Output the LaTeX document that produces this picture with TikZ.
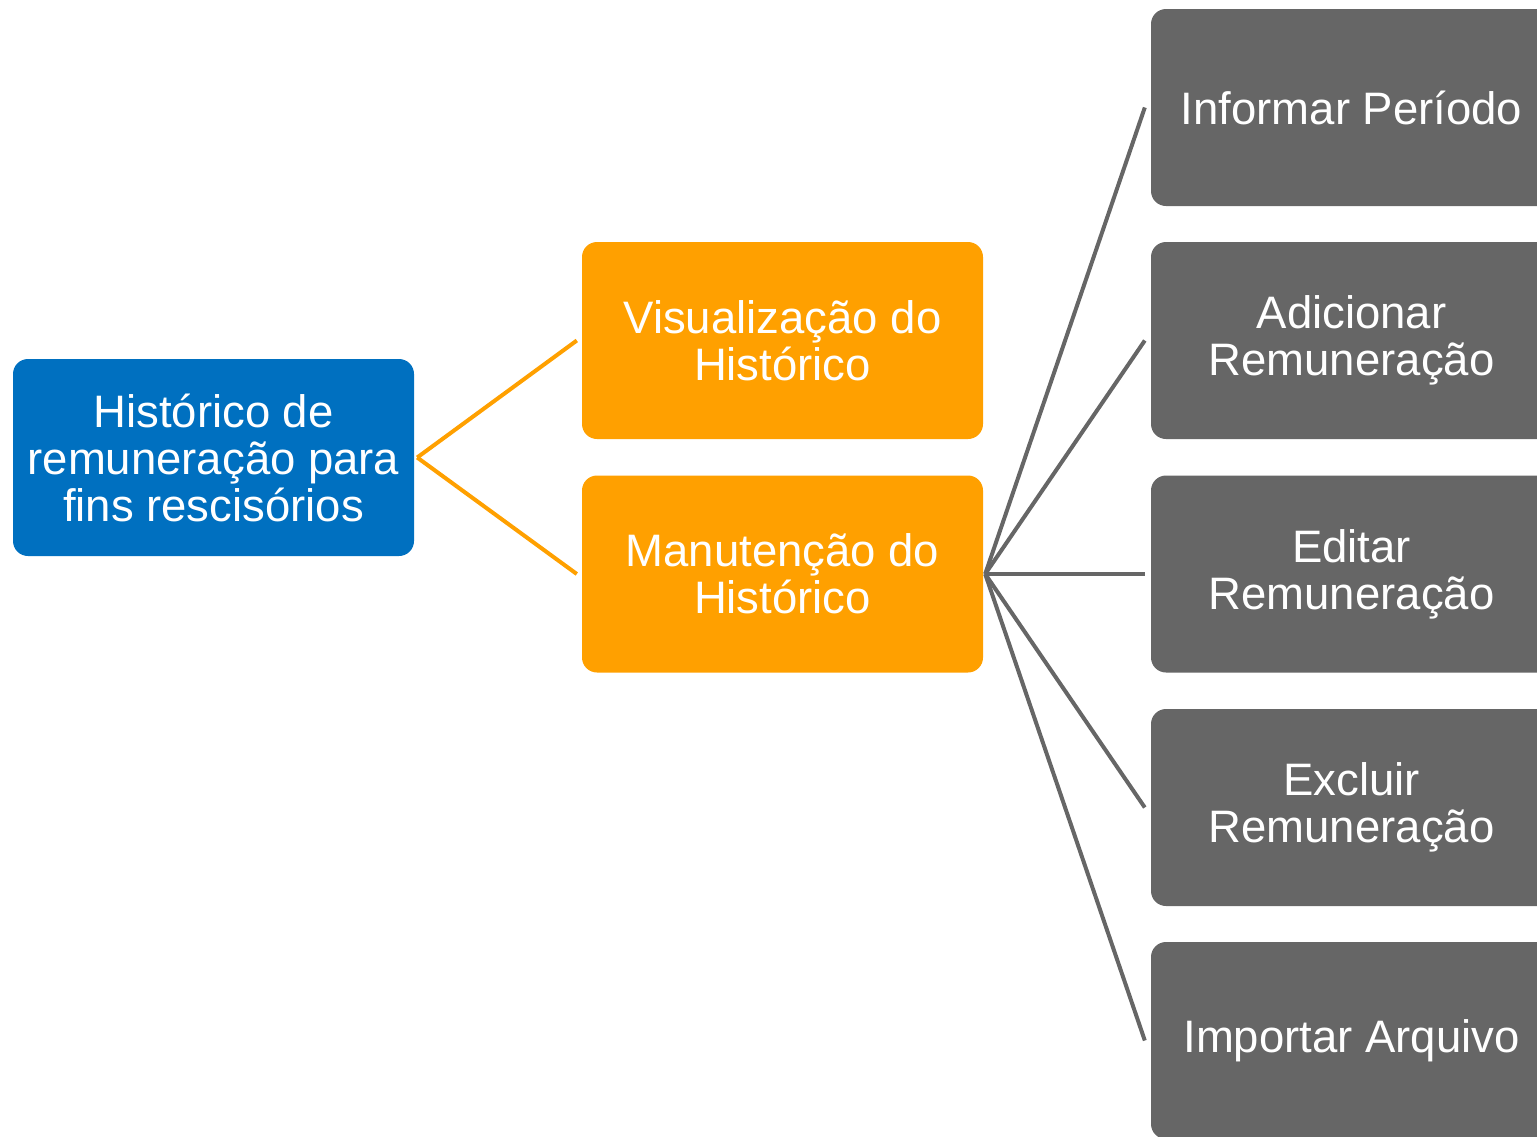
\documentclass[tikz,border=0pt]{standalone}
\usepackage{fontspec}
\setmainfont{Liberation Sans}
\definecolor{cblue}{HTML}{0070C0}
\definecolor{corange}{HTML}{FFA000}
\definecolor{cgray}{HTML}{666666}
\begin{document}
\begin{tikzpicture}[x=1pt,y=-1pt,
  box/.style={rounded corners=15pt, minimum width=401pt, minimum height=197pt, inner sep=0pt,
    text=white, align=center, font=\fontsize{45.5}{47}\selectfont},
  bluebox/.style={box, fill=cblue},
  orangebox/.style={box, fill=corange},
  graybox/.style={box, fill=cgray},
  oline/.style={draw=corange, line width=4pt},
  gline/.style={draw=cgray, line width=4pt}]
\useasboundingbox (0,0) rectangle (1537,1136);
\clip (0,0) rectangle (1537,1136);
\node[bluebox] (root) at (213.5,457.5) {Histórico de\\remuneração para\\fins rescisórios};
\node[orangebox] (vis) at (782.5,340.5) {Visualização do\\Histórico};
\node[orangebox] (man) at (782.5,574) {Manutenção do\\Histórico};
\node[graybox] (g1) at (1351.5,107.5) {Informar Período};
\node[graybox] (g2) at (1351.5,340.5) {Adicionar\\Remuneração};
\node[graybox] (g3) at (1351.5,574) {Editar\\Remuneração};
\node[graybox] (g4) at (1351.5,807.5) {Excluir\\Remuneração};
\node[graybox] (g5) at (1351.5,1040.5) {Importar Arquivo};
\draw[oline] ([xshift=3pt]root.east) -- ([xshift=-5pt]vis.west);
\draw[oline] ([xshift=3pt]root.east) -- ([xshift=-5pt]man.west);
\foreach \g in {g1,g2,g3,g4,g5}
  \draw[gline] ([xshift=2pt]man.east) -- ([xshift=-6pt]\g.west);
\end{tikzpicture}
\end{document}
